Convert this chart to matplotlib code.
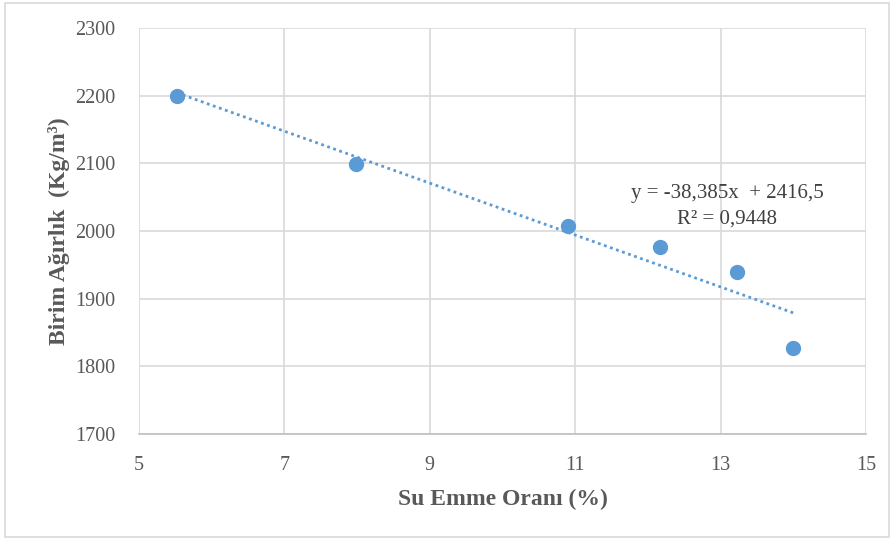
import numpy as np
import matplotlib
matplotlib.use("Agg")
import matplotlib.pyplot as plt
from matplotlib.patches import Rectangle

# Data
su_emme = [5.52, 7.98, 10.90, 12.17, 13.22, 14.0]
birim_agirlik = [2200, 2099, 2007, 1976, 1940, 1827]
x_ticks = [5, 7, 9, 11, 13, 15]
y_ticks = [1700, 1800, 1900, 2000, 2100, 2200, 2300]
equation_text = "y = -38,385x  + 2416,5"
r2_text = "R² = 0,9448"

plt.rcParams['font.family'] = ['Liberation Serif', 'DejaVu Serif']

fig = plt.figure(figsize=(8.94, 5.42), dpi=100)
fig.patch.set_facecolor('white')
fig.patches.append(Rectangle((0.006, 0.009), 0.988, 0.985, transform=fig.transFigure,
                             fill=False, edgecolor='#d9d9d9', linewidth=1.2))

ax = fig.add_axes([0.1555, 0.1993, 0.8132, 0.749])

blue = '#5B9BD5'
grid_c = '#d9d9d9'

coef = np.polyfit(su_emme, birim_agirlik, 1)
xt = np.array([min(su_emme), max(su_emme)])
ax.plot(xt, np.polyval(coef, xt), linestyle=(0, (1, 1.3)), color=blue, linewidth=2.0, zorder=3)
ax.plot(su_emme, birim_agirlik, 'o', color=blue, markersize=10, zorder=4)

ax.set_xlim(5, 15)
ax.set_ylim(1700, 2300)
ax.set_xticks(x_ticks)
ax.set_yticks(y_ticks)
ax.grid(True, color=grid_c, linewidth=1.2)
ax.set_axisbelow(True)
for s in ['top', 'right', 'left']:
    ax.spines[s].set_visible(False)
ax.spines['bottom'].set_color('#bfbfbf')
ax.spines['bottom'].set_linewidth(1.2)
ax.tick_params(axis='both', length=0, labelsize=14.5, labelcolor='#595959')
ax.tick_params(axis='x', pad=16)
ax.tick_params(axis='y', pad=17)

ax.set_xlabel('Su Emme Oranı (%)', fontsize=17, fontweight='bold', color='#595959', labelpad=10)
ax.set_ylabel('Birim Ağırlık  (Kg/m³)', fontsize=17, fontweight='bold', color='#595959', labelpad=4)

ax.text(13.09, 2056, equation_text, fontsize=15, color='#404040', ha='center', va='center')
ax.text(13.09, 2018, r2_text, fontsize=15, color='#404040', ha='center', va='center')

fig.savefig('out.png', dpi=100)
